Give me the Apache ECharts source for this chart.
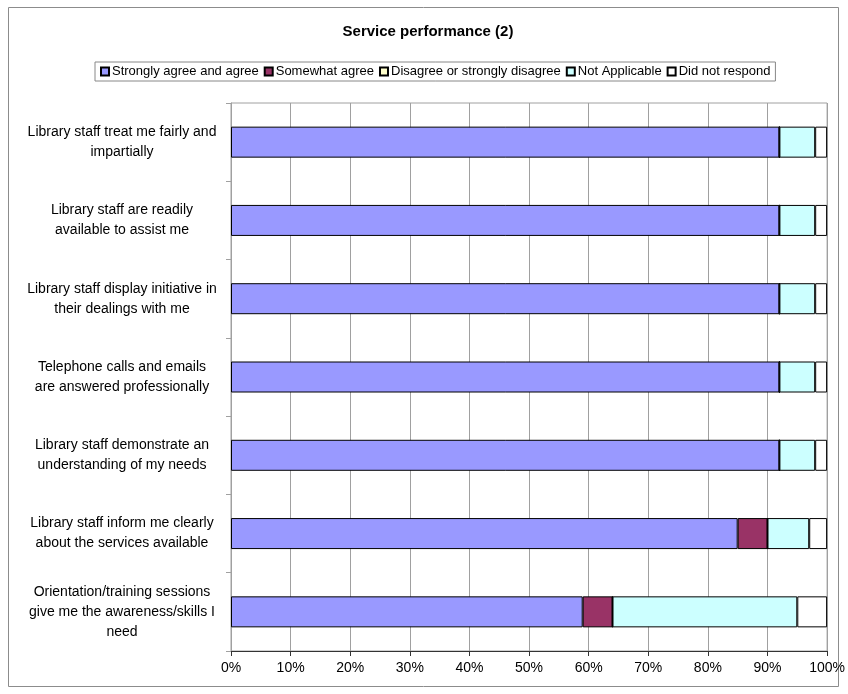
<!DOCTYPE html>
<html>
<head>
<meta charset="utf-8">
<script src="https://cdn.jsdelivr.net/npm/echarts@6/dist/echarts.min.js"></script>
<style>
  html, body { margin: 0; padding: 0; background: #fff; }
  #chart { width: 848px; height: 694px; }
</style>
</head>
<body>
<div id="chart"></div>
<script>
// Survey statements (top to bottom)
const categories = [
  'Library staff treat me fairly and\nimpartially',
  'Library staff are readily\navailable to assist me',
  'Library staff display initiative in\ntheir dealings with me',
  'Telephone calls and emails\nare answered professionally',
  'Library staff demonstrate an\nunderstanding of my needs',
  'Library staff inform me clearly\nabout the services available',
  'Orientation/training sessions\ngive me the awareness/skills I\nneed'
];

// Response shares, percent of respondents
const stronglyAgree   = [92, 92, 92, 92, 92, 85, 59];
const somewhatAgree   = [0, 0, 0, 0, 0, 5, 5];
const disagree        = [0, 0, 0, 0, 0, 0, 0];
const notApplicable   = [6, 6, 6, 6, 6, 7, 31];
const didNotRespond   = [2, 2, 2, 2, 2, 3, 5];

const seriesNames = [
  'Strongly agree and agree',
  'Somewhat agree',
  'Disagree or strongly disagree',
  'Not Applicable',
  'Did not respond'
];
const seriesData = [stronglyAgree, somewhatAgree, disagree, notApplicable, didNotRespond];
const seriesColors = ['#9999FF', '#993366', '#FFFFCC', '#CCFFFF', '#FFFFFF'];

const xTicks = [0, 10, 20, 30, 40, 50, 60, 70, 80, 90, 100];

const chart = echarts.init(document.getElementById('chart'), null, { renderer: 'canvas' });

const font = 'Arial, "Liberation Sans", Helvetica, sans-serif';

chart.setOption({
  backgroundColor: '#ffffff',
  animation: false,
  title: {
    text: 'Service performance (2)',
    left: 423,
    textAlign: 'center',
    top: 19,
    textStyle: { fontFamily: font, fontSize: 15, fontWeight: 'bold', color: '#000' }
  },
  legend: {
    data: seriesNames,
    top: 62,
    left: 95,
    itemWidth: 8,
    itemHeight: 8,
    itemGap: 5,
    padding: [3, 5, 3, 5],
    borderColor: '#888888',
    borderWidth: 1,
    icon: 'rect',
    textStyle: { fontFamily: font, fontSize: 13, color: '#000', padding: [0, 0, 0, -2] }
  },
  grid: {
    left: 231,
    right: 20,
    top: 103,
    bottom: 43,
    show: true,
    borderColor: '#a0a0a0',
    borderWidth: 1,
    backgroundColor: 'transparent'
  },
  xAxis: {
    type: 'value',
    min: xTicks[0],
    max: xTicks[xTicks.length - 1],
    interval: xTicks[1] - xTicks[0],
    axisLine: { show: true, lineStyle: { color: '#333', width: 1 } },
    axisTick: { show: true, length: 5, lineStyle: { color: '#333' } },
    splitLine: { show: true, lineStyle: { color: '#a0a0a0', width: 1 } },
    axisLabel: {
      formatter: '{value}%',
      fontFamily: font,
      fontSize: 14,
      color: '#000',
      margin: 10
    }
  },
  yAxis: {
    type: 'category',
    data: categories,
    inverse: true,
    axisLine: { show: true, lineStyle: { color: '#a0a0a0', width: 1 } },
    axisTick: { show: true, length: 5, lineStyle: { color: '#a0a0a0' } },
    splitLine: { show: false },
    axisLabel: {
      fontFamily: font,
      fontSize: 14,
      color: '#000',
      align: 'center',
      margin: 109,
      lineHeight: 20,
      interval: 0
    }
  },
  series: seriesNames.map((name, i) => ({
    name: name,
    type: 'bar',
    stack: 'total',
    barWidth: 31,
    data: seriesData[i],
    itemStyle: { color: seriesColors[i], borderColor: '#000', borderWidth: 1 },
    emphasis: { disabled: true }
  })),
  graphic: [{
    type: 'rect',
    silent: true,
    z: -1,
    shape: { x: 8.5, y: 7.5, width: 830, height: 679 },
    style: { fill: 'none', stroke: '#8c8c8c', lineWidth: 1 }
  }]
});
</script>
</body>
</html>
